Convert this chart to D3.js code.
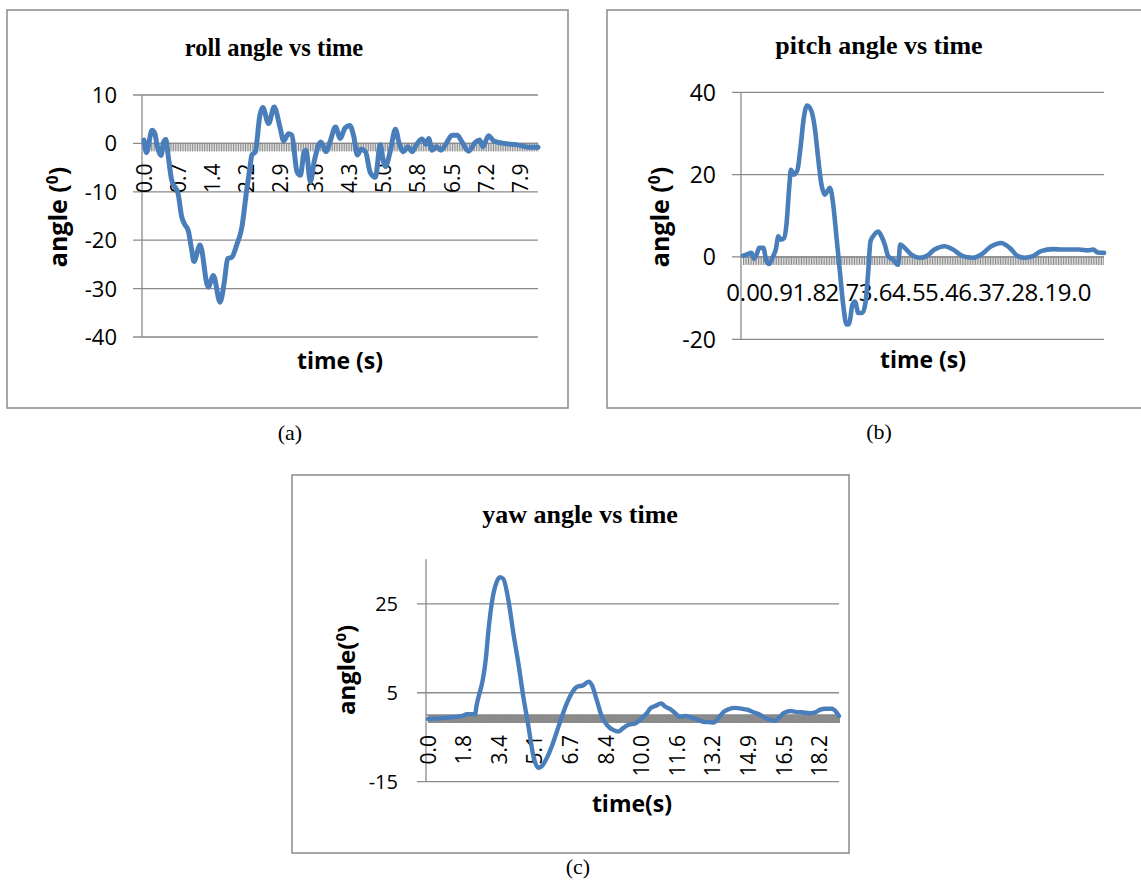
<!DOCTYPE html>
<html>
<head>
<meta charset="utf-8">
<script src="https://cdn.jsdelivr.net/npm/d3@7/dist/d3.min.js"></script>
<style>
  html, body { margin: 0; padding: 0; background: #fff; }
  svg { display: block; }
</style>
</head>
<body>
<svg id="fig" width="1141" height="882"></svg>
<script>
// ----- roll data (s, degrees)
const rollTime = [0, 0.05, 0.17, 0.23, 0.27, 0.36, 0.41, 0.46, 0.51, 0.58, 0.72, 0.79, 0.86, 0.93, 1.0,
  1.05, 1.18, 1.35, 1.46, 1.6, 1.69, 1.76, 1.85, 1.95, 2.06, 2.16, 2.23, 2.27, 2.34, 2.44, 2.5, 2.62,
  2.74, 2.86, 2.94, 3.04, 3.11, 3.22, 3.29, 3.37, 3.41, 3.5, 3.58, 3.69, 3.72, 3.83, 3.92, 4.03, 4.13,
  4.23, 4.33, 4.41, 4.49, 4.57, 4.66, 4.76, 4.87, 4.97, 5.04, 5.08, 5.18, 5.29, 5.37, 5.46, 5.55, 5.64,
  5.73, 5.85, 5.94, 5.99, 6.06, 6.15, 6.25, 6.36, 6.48, 6.59, 6.69, 6.83, 6.97, 7.06, 7.13, 7.25, 7.36,
  7.57, 7.85, 8.1, 8.29];
const rollAngle = [0.7, -1.9, 2.7, 2.0, -0.2, -2.5, 0.2, 0.8, -2.6, -7.5, -10.5, -15, -16.8, -18, -21.8,
  -24.4, -21, -29.7, -27.3, -32.8, -28.6, -23.8, -23.5, -21, -17.3, -9.7, -4.9, -2.4, -1.8, 5.9, 7.4, 4.1,
  7.5, 3.4, 0.5, 2.0, 1.7, -5.9, -6.6, -1.7, -1.4, -7.9, -3.8, 0, 0.3, -1.7, 0.5, 3.4, 1.0,
  3.2, 3.7, 1.6, -2.4, -1.2, -1.7, -6, -7, -0.3, -3.8, -4.8, -1.7, 2.9, 0, -1.7, -0.7, -1.7,
  -0.3, 0.9, -0.2, 1.0, -1.4, -0.7, -1.4, 0, 1.7, 1.7, 0.3, -1.6, 0.2, 0.7, -0.7, 1.6, 0.5,
  0, -0.3, -0.8, -0.8];
const rollLabels = ["0.0", "0.7", "1.4", "2.2", "2.9", "3.6", "4.3", "5.0", "5.8", "6.5", "7.2", "7.9"];
const rollLabelStep = 0.72;
const rollYTicks = [10, 0, -10, -20, -30, -40];

// ----- pitch data
const pitchTime = [0, 0.1, 0.23, 0.3, 0.37, 0.44, 0.55, 0.64, 0.71, 0.82, 0.89, 0.96, 1.02, 1.11, 1.18,
  1.26, 1.3, 1.38, 1.48, 1.56, 1.65, 1.74, 1.86, 1.95, 2.04, 2.13, 2.22, 2.29, 2.36, 2.45, 2.54, 2.63,
  2.72, 2.81, 2.88, 2.97, 3.04, 3.13, 3.24, 3.33, 3.4, 3.46, 3.53, 3.67, 3.76, 3.85, 3.94, 4.07, 4.21,
  4.27, 4.39, 4.57, 4.8, 4.98, 5.2, 5.47, 5.7, 5.97, 6.24, 6.47, 6.74, 7.01, 7.24, 7.46, 7.64, 7.87,
  8.09, 8.41, 8.68, 9.13, 9.36, 9.51, 9.63, 9.8];
const pitchAngle = [0.3, 0.6, 1.0, -0.4, 0.6, 2.2, 2.2, -1.1, -1.7, 0.2, 1.8, 5.0, 4.2, 4.5, 7.9,
  17.6, 21.2, 20, 21.2, 26.5, 33.8, 36.8, 35.4, 31.3, 24, 17.6, 15.1, 16, 16.8, 12.7, 4.6, -3.5,
  -11.6, -16.4, -16.3, -11.6, -10.8, -13.6, -13.6, -10.8, -3.5, 3.8, 5.0, 6.2, 5.0, 3.0, 0.2, -0.6, -1.9,
  3.0, 2.2, 0.6, -0.2, 0.2, 1.8, 2.6, 1.8, 0.2, -0.2, 0.6, 2.6, 3.4, 2.2, 0.2, -0.2, 0.2,
  1.4, 1.9, 1.8, 1.8, 1.6, 1.8, 1.1, 1.0];
const pitchLabels = ["0.0", "0.9", "1.8", "2.7", "3.6", "4.5", "5.4", "6.3", "7.2", "8.1", "9.0"];
const pitchLabelStep = 0.9;
const pitchYTicks = [40, 20, 0, -20];

// ----- yaw data
const yawTime = [0, 0.95, 1.64, 1.8, 2.19, 2.26, 2.4, 2.53, 2.68, 2.81, 2.96, 3.19, 3.35, 3.5, 3.74,
  3.97, 4.2, 4.43, 4.67, 4.9, 5.13, 5.29, 5.52, 5.75, 5.99, 6.22, 6.45, 6.68, 6.91, 7.22, 7.46, 7.61,
  7.84, 8.08, 8.31, 8.62, 8.85, 9.08, 9.32, 9.63, 9.94, 10.17, 10.33, 10.56, 10.84, 11.02, 11.26, 11.49,
  11.69, 11.95, 12.26, 12.57, 12.85, 13.04, 13.27, 13.5, 13.74, 13.97, 14.28, 14.67, 14.9, 15.13, 15.36,
  15.64, 15.9, 16.11, 16.37, 16.53, 16.84, 17.07, 17.38, 17.77, 18.0, 18.23, 18.47, 18.78, 18.93, 19.1];
const yawAngle = [-0.9, -0.6, -0.15, 0.2, 0.2, 2.2, 5.0, 7.5, 12.3, 19, 25, 29.9, 31, 30.6, 25.7,
  18.3, 11.6, 4.1, -2.6, -9.3, -11.9, -11.5, -9.7, -7.1, -3.7, -0.4, 2.6, 4.9, 6.3, 6.7, 7.5, 6.8,
  3.4, -0.4, -2.2, -3.4, -3.7, -2.9, -2.2, -1.9, -0.7, 0.4, 1.5, 2.0, 2.6, 1.9, 1.3, 0.4,
  -0.4, -0.2, -0.6, -1.1, -1.6, -1.6, -1.7, -0.7, 0.7, 1.3, 1.6, 1.3, 1.1, 0.6, 0.2,
  -0.6, -1.1, -1.3, -0.3, 0.4, 0.9, 0.7, 0.6, 0.4, 0.6, 1.2, 1.4, 1.4, 0.9, -0.2];
const yawLabels = ["0.0", "1.8", "3.4", "5.1", "6.7", "8.4", "10.0", "11.6", "13.2", "14.9", "16.5", "18.2"];
const yawLabelStep = 1.655;
const yawYTicks = [25, 5, -15];

const gridColor = "#8a8a8a";
const lineColor = "#4a7ebb";
const svg = d3.select("#fig");

/***********************************************
 * one Excel-style line chart
 ***********************************************/
function drawChart(c) {
  const g = svg.append("g");

  // outer frame
  g.append("rect")
    .attr("x", c.box[0]).attr("y", c.box[1])
    .attr("width", c.box[2]).attr("height", c.box[3])
    .attr("fill", "#fff").attr("stroke", gridColor).attr("stroke-width", 1.5);

  const x = d3.scaleLinear().domain([0, c.tEnd]).range([c.px0, c.px1]);
  const y = d3.scaleLinear().domain(c.yDomain).range(c.yRange);

  // horizontal gridlines + little outside ticks
  g.selectAll("line.grid")
    .data(c.yTicks)
    .join("line")
      .attr("class", "grid")
      .attr("x1", c.axisX - 9).attr("x2", c.px1)
      .attr("y1", d => y(d)).attr("y2", d => y(d))
      .attr("stroke", gridColor).attr("stroke-width", 1.3);

  // vertical axis line
  g.append("line")
    .attr("x1", c.axisX).attr("x2", c.axisX)
    .attr("y1", y(c.yDomain[1])).attr("y2", y(c.yDomain[0]))
    .attr("stroke", gridColor).attr("stroke-width", 1.3);

  // y tick labels
  g.selectAll("text.ylab")
    .data(c.yTicks)
    .join("text")
      .attr("class", "ylab")
      .attr("x", c.yLabelX).attr("y", d => y(d))
      .attr("dy", "0.36em")
      .attr("text-anchor", "end")
      .attr("font-family", "Open Sans")
      .attr("font-size", c.yFont)
      .text(d => d);

  // category axis at zero with one tick per sample
  const minor = d3.range(0, c.tEnd + 1e-9, c.minorStep);
  const xAxis = d3.axisBottom(x)
    .tickValues(minor)
    .tickSize(8)
    .tickSizeOuter(0)
    .tickFormat("");
  g.append("g")
    .attr("transform", `translate(0,${y(0)})`)
    .call(xAxis)
    .call(a => a.select(".domain").remove())
    .call(a => a.selectAll(".tick line").attr("stroke", gridColor).attr("stroke-width", 1));
  g.append("line")
    .attr("x1", c.axisX).attr("x2", c.px1)
    .attr("y1", y(0)).attr("y2", y(0))
    .attr("stroke", gridColor).attr("stroke-width", 1.3);

  // x tick labels
  const xl = g.selectAll("text.xlab")
    .data(c.labels)
    .join("text")
      .attr("class", "xlab")
      .attr("font-family", "Open Sans")
      .attr("font-size", c.xFont)
      .text(d => d);
  if (c.rotate) {
    xl.attr("transform", (d, i) => `translate(${x(i * c.labelStep)},${y(0) + c.xLabelGap}) rotate(-90)`)
      .attr("text-anchor", "end")
      .attr("dy", "0.36em");
  } else {
    xl.attr("x", (d, i) => x(i * c.labelStep))
      .attr("y", y(0) + c.xLabelGap)
      .attr("text-anchor", "middle");
  }

  // the series
  const pts = c.time.map((t, i) => [t, c.angle[i]]);
  g.append("path")
    .datum(pts)
    .attr("fill", "none")
    .attr("stroke", lineColor)
    .attr("stroke-width", c.lineW)
    .attr("stroke-linejoin", "round")
    .attr("stroke-linecap", "round")
    .attr("d", d3.line().x(d => x(d[0])).y(d => y(d[1])).curve(d3.curveMonotoneX));

  // title
  g.append("text")
    .attr("x", c.titleX).attr("y", c.titleY)
    .attr("text-anchor", "middle")
    .attr("font-family", "Liberation Serif").attr("font-weight", "bold")
    .attr("font-size", c.titleFont)
    .text(c.title);

  // y axis title with superscript
  const yt = g.append("text")
    .attr("transform", `translate(${c.yTitle[0]},${c.yTitle[1]}) rotate(-90)`)
    .attr("text-anchor", "middle")
    .attr("dy", "0.36em")
    .attr("font-family", "Open Sans").attr("font-weight", "bold")
    .attr("font-size", c.yTitleFont);
  yt.append("tspan").text(c.yTitleText);
  yt.append("tspan").attr("font-size", c.yTitleFont * 0.62).attr("dy", "-0.55em").text("0");
  yt.append("tspan").attr("dy", "0.34em").text(")");

  // x axis title
  g.append("text")
    .attr("x", c.xTitle[0]).attr("y", c.xTitle[1])
    .attr("text-anchor", "middle")
    .attr("font-family", "Open Sans").attr("font-weight", "bold")
    .attr("font-size", c.xTitleFont)
    .text(c.xTitleText);

  // caption under the frame
  g.append("text")
    .attr("x", c.caption[0]).attr("y", c.caption[1])
    .attr("text-anchor", "middle")
    .attr("font-family", "Liberation Serif")
    .attr("font-size", 22)
    .text(c.captionText);
}

drawChart({
  box: [7, 10, 561, 398],
  px0: 144, px1: 538, axisX: 142, tEnd: 8.29,
  yDomain: [-40, 10], yRange: [337, 95], yTicks: rollYTicks,
  yLabelX: 117, yFont: 22,
  minorStep: 0.036, labels: rollLabels, labelStep: rollLabelStep,
  rotate: true, xLabelGap: 20, xFont: 21,
  time: rollTime, angle: rollAngle, lineW: 5,
  title: "roll angle vs time", titleX: 274, titleY: 56, titleFont: 24.5,
  yTitle: [58, 217], yTitleText: "angle (", yTitleFont: 25,
  xTitle: [340, 369], xTitleText: "time (s)", xTitleFont: 23,
  caption: [290, 440], captionText: "(a)"
});

drawChart({
  box: [607, 10, 545, 398],
  px0: 743, px1: 1104, axisX: 741, tEnd: 9.8,
  yDomain: [-20, 40], yRange: [339.3, 92.3], yTicks: pitchYTicks,
  yLabelX: 716, yFont: 23,
  minorStep: 0.045, labels: pitchLabels, labelStep: pitchLabelStep,
  rotate: false, xLabelGap: 44, xFont: 24,
  time: pitchTime, angle: pitchAngle, lineW: 4.6,
  title: "pitch angle vs time", titleX: 879, titleY: 54, titleFont: 26,
  yTitle: [660, 217], yTitleText: "angle (", yTitleFont: 25,
  xTitle: [923, 368], xTitleText: "time (s)", xTitleFont: 23,
  caption: [879, 439], captionText: "(b)"
});

drawChart({
  box: [292, 475, 557, 378],
  px0: 428, px1: 839, axisX: 426, tEnd: 19.1,
  yDomain: [-15, 35], yRange: [781.7, 559.3], yTicks: yawYTicks,
  yLabelX: 398, yFont: 20,
  minorStep: 0.02, labels: yawLabels, labelStep: yawLabelStep,
  rotate: true, xLabelGap: 20, xFont: 21,
  time: yawTime, angle: yawAngle, lineW: 4.4,
  title: "yaw angle vs time", titleX: 580, titleY: 523, titleFont: 26,
  yTitle: [346, 670], yTitleText: "angle(", yTitleFont: 24,
  xTitle: [632, 812], xTitleText: "time(s)", xTitleFont: 23,
  caption: [578, 874], captionText: "(c)"
});
</script>
</body>
</html>
